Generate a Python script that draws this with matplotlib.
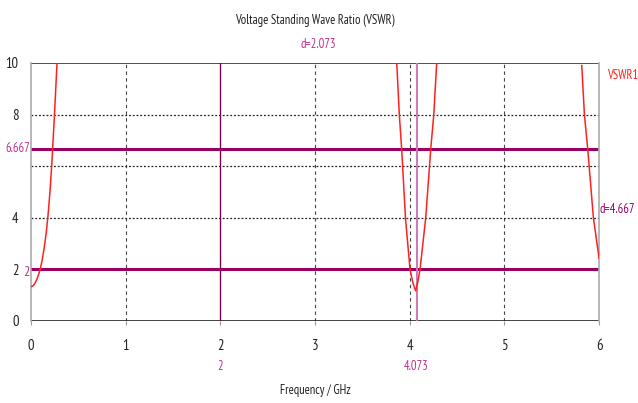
import matplotlib
matplotlib.use('Agg')
import matplotlib.pyplot as plt
from matplotlib import font_manager

# VSWR curve (three visible branches)
f_low = [0.0, 0.02, 0.04, 0.06, 0.08, 0.1, 0.12, 0.14, 0.16, 0.18, 0.2, 0.22, 0.245, 0.275]
vswr_low = [1.33, 1.36, 1.45, 1.6, 1.8, 2.05, 2.4, 2.85, 3.4, 4.1, 5.0, 6.1, 7.8, 10.0]

f_mid = [3.863, 3.89, 3.915, 3.955, 4.003, 4.035, 4.063, 4.085, 4.109, 4.169, 4.222, 4.254, 4.285]
vswr_mid = [10.0, 8.0, 6.667, 4.0, 2.0, 1.45, 1.17, 1.5, 2.0, 4.0, 6.667, 8.0, 10.0]

f_high = [5.817, 5.845, 5.88, 5.94, 6.0]
vswr_high = [9.9, 8.0, 6.667, 4.0, 2.43]

# Markers
h_markers = [2, 6.667]
v_markers = [2, 4.073]

x_ticks = [0, 1, 2, 3, 4, 5, 6]
y_ticks = [0, 2, 4, 6, 8, 10]

# pick a narrow face if one is around
installed = {f.name for f in font_manager.fontManager.ttflist}
narrow = [n for n in ['Liberation Sans Narrow', 'PT Sans Narrow', 'Archivo Narrow',
                      'Roboto Condensed', 'Pragati Narrow', 'Open Sans Condensed',
                      'Encode Sans Condensed', 'Ubuntu Condensed'] if n in installed]
plt.rcParams['font.family'] = narrow[:1] + ['Liberation Sans', 'DejaVu Sans']
fs = 9 if narrow else 7.5

fig = plt.figure(figsize=(6.38, 4.03), dpi=100)
ax = fig.add_axes([0.0486, 0.2035, 0.8904, 0.6402])

red = '#ff2020'
purple = '#990066'
pink = '#c0308a'

# Grid
for x in [1, 3, 4, 5]:
    ax.axvline(x, color='#444444', lw=0.8, ls=(0, (3, 3)), zorder=1)
for y in [4, 6, 8]:
    ax.axhline(y, color='#222222', lw=0.9, ls=(0, (1.5, 1.5)), zorder=1)
ax.axhline(10, color='#333333', lw=1.2, zorder=1)
ax.axhline(0, color='#222222', lw=1.2, zorder=1)

# Curve
for fx, vy in [(f_low, vswr_low), (f_mid, vswr_mid), (f_high, vswr_high)]:
    ax.plot(fx, vy, color=red, lw=1.1, zorder=3)

# Marker lines
for y in h_markers:
    ax.axhline(y, color=purple, lw=2.2, zorder=2)
ax.axvline(v_markers[0], color='#7a0055', lw=1.0, zorder=2)
ax.axvline(v_markers[1], color='#cc77bb', lw=1.4, zorder=2)

ax.set_xlim(0, 6)
ax.set_ylim(0, 10)
ax.set_xticks(x_ticks)
ax.set_yticks(y_ticks)
ax.set_yticklabels(['0', '2', '4', '', '8', '10'])
ax.tick_params(axis='x', length=3, color='#999999', labelsize=fs + 1.5, pad=10,
               direction='out', labelcolor='#222222')
ax.tick_params(axis='y', length=0, labelsize=fs + 1.5, pad=9, labelcolor='#222222')
for s in ['top', 'bottom']:
    ax.spines[s].set_visible(False)
for s in ['left', 'right']:
    ax.spines[s].set_color('#aaaaaa')
    ax.spines[s].set_linewidth(1.2)

# Marker labels
ax.text(-0.01, h_markers[1], '6.667', color=pink, fontsize=fs, ha='right', va='center')
ax.text(-0.015, h_markers[0] - 0.12, '2', color=pink, fontsize=fs + 1, ha='right', va='center')
ax.text((v_markers[0] + v_markers[1]) / 2, 10.7, 'd=%.3f' % (v_markers[1] - v_markers[0]),
        color=pink, fontsize=fs, ha='center', va='center')
ax.text(6.005, (h_markers[0] + h_markers[1]) / 2, 'd=%.3f' % (h_markers[1] - h_markers[0]),
        color=purple, fontsize=fs, ha='left', va='center')
for x in v_markers:
    ax.text(x, -1.75, '%g' % x, color=pink, fontsize=fs, ha='center', va='center')
ax.text(6.08, 9.5, 'VSWR1', color=red, fontsize=fs, ha='left', va='center')

ax.set_title('Voltage Standing Wave Ratio (VSWR)', fontsize=fs, color='#222222', pad=28)
ax.set_xlabel('Frequency / GHz', fontsize=fs, color='#222222', labelpad=22)

fig.savefig('out.png', dpi=100)
